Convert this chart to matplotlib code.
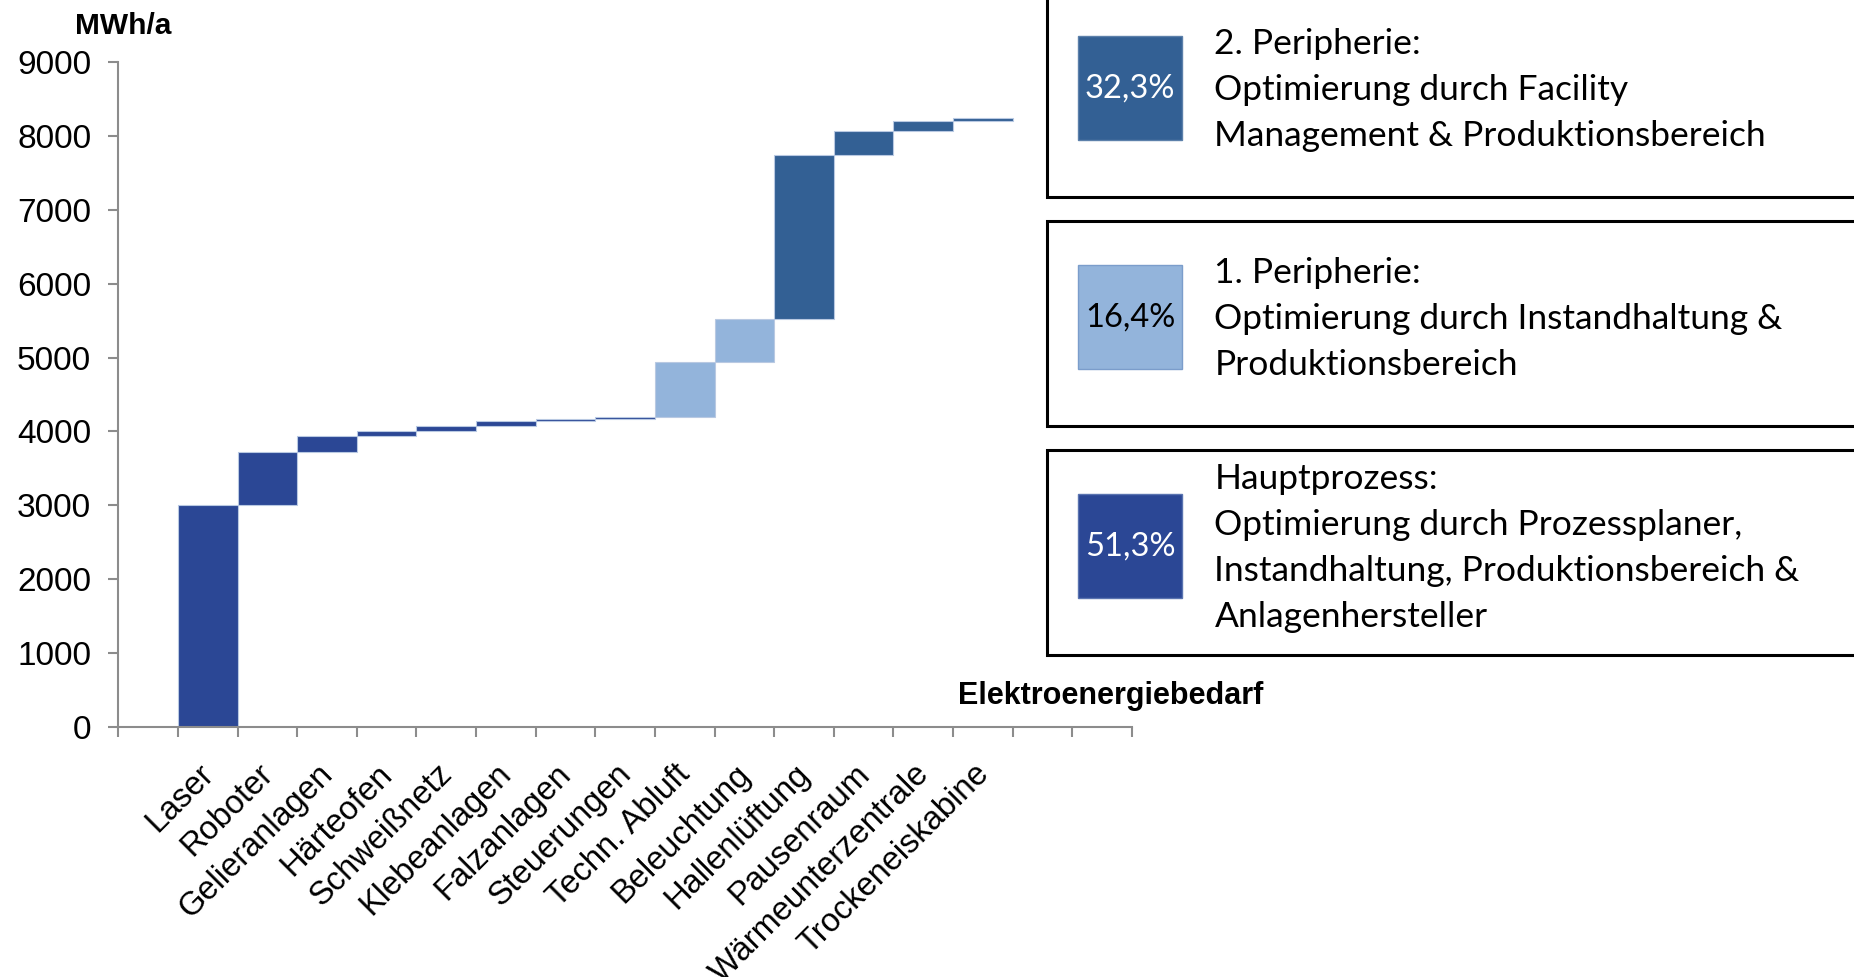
import matplotlib
matplotlib.use("Agg")
import matplotlib.pyplot as plt
import matplotlib.transforms as mtransforms
from matplotlib.patches import Rectangle
import numpy as np

W, H, DPI = 1854, 977, 100

# ---- data ----
categories = ["", "Laser", "Roboter", "Gelieranlagen", "Härteofen", "Schweißnetz",
              "Klebeanlagen", "Falzanlagen", "Steuerungen", "Techn. Abluft",
              "Beleuchtung", "Hallenlüftung", "Pausenraum", "Wärmeunterzentrale",
              "Trockeneiskabine", "", ""]
# Zuwachs je Verbraucher (MWh/a), 0 = leere Kategorie
values = [0, 3000, 725, 208, 72, 73, 63, 31, 29, 735, 585, 2212, 332, 132, 36, 0, 0]
# Gruppe je Kategorie: 0 = Hauptprozess, 1 = 1. Peripherie, 2 = 2. Peripherie, -1 = leer
group_of = [-1, 0, 0, 0, 0, 0, 0, 0, 0, 1, 1, 2, 2, 2, 2, -1, -1]

group_names = ["Hauptprozess:", "1. Peripherie:", "2. Peripherie:"]
group_share = ["51,3%", "16,4%", "32,3%"]
group_text = [
    ["Optimierung durch Prozessplaner,",
     "Instandhaltung, Produktionsbereich &",
     "Anlagenhersteller"],
    ["Optimierung durch Instandhaltung &",
     "Produktionsbereich"],
    ["Optimierung durch Facility",
     "Management & Produktionsbereich"],
]
y_ticks = [0, 1000, 2000, 3000, 4000, 5000, 6000, 7000, 8000, 9000]

# ---- style ----
COLORS = ["#2B4795", "#93B4DB", "#336094"]
SQ_EDGE = ["#5A74B0", "#7B9DCB", "#5C80AA"]
PCT_COLOR = ["white", "black", "white"]
AXIS_GRAY = "#8C8C8C"
ARIAL = ["Liberation Sans", "DejaVu Sans"]
CALIBRI = ["Lato", "DejaVu Sans"]

plt.rcParams["font.family"] = ARIAL

fig = plt.figure(figsize=(W / DPI, H / DPI), dpi=DPI)
ax = fig.add_axes([118.3 / W, 1 - 727.3 / H, (1132 - 118.3) / W, (727.3 - 61.7) / H])

x = np.arange(len(categories))
vals = np.array(values, dtype=float)
bottoms = np.concatenate([[0], np.cumsum(vals)[:-1]])
for i in x:
    if vals[i] <= 0:
        continue
    ax.bar(i, vals[i], bottom=bottoms[i], width=1.0, color=COLORS[group_of[i]],
           edgecolor="#B9C9E2", linewidth=0.8, zorder=2)

ax.set_xlim(-0.5, len(categories) - 0.5)
ax.set_ylim(0, 9000)
ax.set_yticks(y_ticks)
ax.set_yticklabels([str(v) for v in y_ticks], fontsize=24)
ax.set_xticks(np.arange(len(categories) + 1) - 0.5)
ax.set_xticklabels([])
ax.tick_params(axis="both", direction="out", length=7.5, width=1.5, color=AXIS_GRAY)
ax.tick_params(axis="y", pad=12)
for side in ("top", "right"):
    ax.spines[side].set_visible(False)
for side in ("left", "bottom"):
    ax.spines[side].set_color(AXIS_GRAY)
    ax.spines[side].set_linewidth(1.5)
ax.spines["bottom"].set_zorder(3)

# rotated category labels
offs = mtransforms.ScaledTranslation(1 / DPI, -42 / DPI, fig.dpi_scale_trans)
for i, name in enumerate(categories):
    if name:
        ax.text(i, 0, name, transform=ax.get_xaxis_transform() + offs,
                rotation=45, rotation_mode="anchor", ha="right", va="center",
                fontsize=23.5)

# ---- overlay in pixel coordinates ----
ov = fig.add_axes([0, 0, 1, 1], facecolor="none")
ov.set_xlim(0, W)
ov.set_ylim(H, 0)
ov.axis("off")

ov.text(75, 34.3, "MWh/a", fontsize=21.5, fontweight="bold", va="baseline", ha="left")
ov.text(958, 704, "Elektroenergiebedarf", fontsize=22, fontweight="bold",
        va="baseline", ha="left")

box_tops = [449.5, 220.5, -8.5]   # Hauptprozess unten, 2. Peripherie oben
BOX_H, BOX_L = 205.5, 1047
SQ_L, SQ = 1078, 104
TXT_L, LINE = 1214.5, 46
for g in range(3):
    top = box_tops[g]
    ov.add_patch(Rectangle((BOX_L, top), 900, BOX_H, facecolor="white",
                           edgecolor="black", linewidth=2.2))
    cy = top + BOX_H / 2 - 6
    ov.add_patch(Rectangle((SQ_L, cy - SQ / 2), SQ, SQ, facecolor=COLORS[g],
                           edgecolor=SQ_EDGE[g], linewidth=1))
    ov.text(SQ_L + SQ / 2, cy, group_share[g], ha="center", va="center",
            fontsize=23.5, color=PCT_COLOR[g], family=CALIBRI)
    lines = [group_names[g]] + group_text[g]
    n = len(lines)
    for k, ln in enumerate(lines):
        yb = cy + (k - (n - 1) / 2) * LINE + 12
        ov.text(TXT_L, yb, ln, ha="left", va="baseline", fontsize=25.5,
                family=CALIBRI)

fig.savefig("out.png", dpi=DPI)
